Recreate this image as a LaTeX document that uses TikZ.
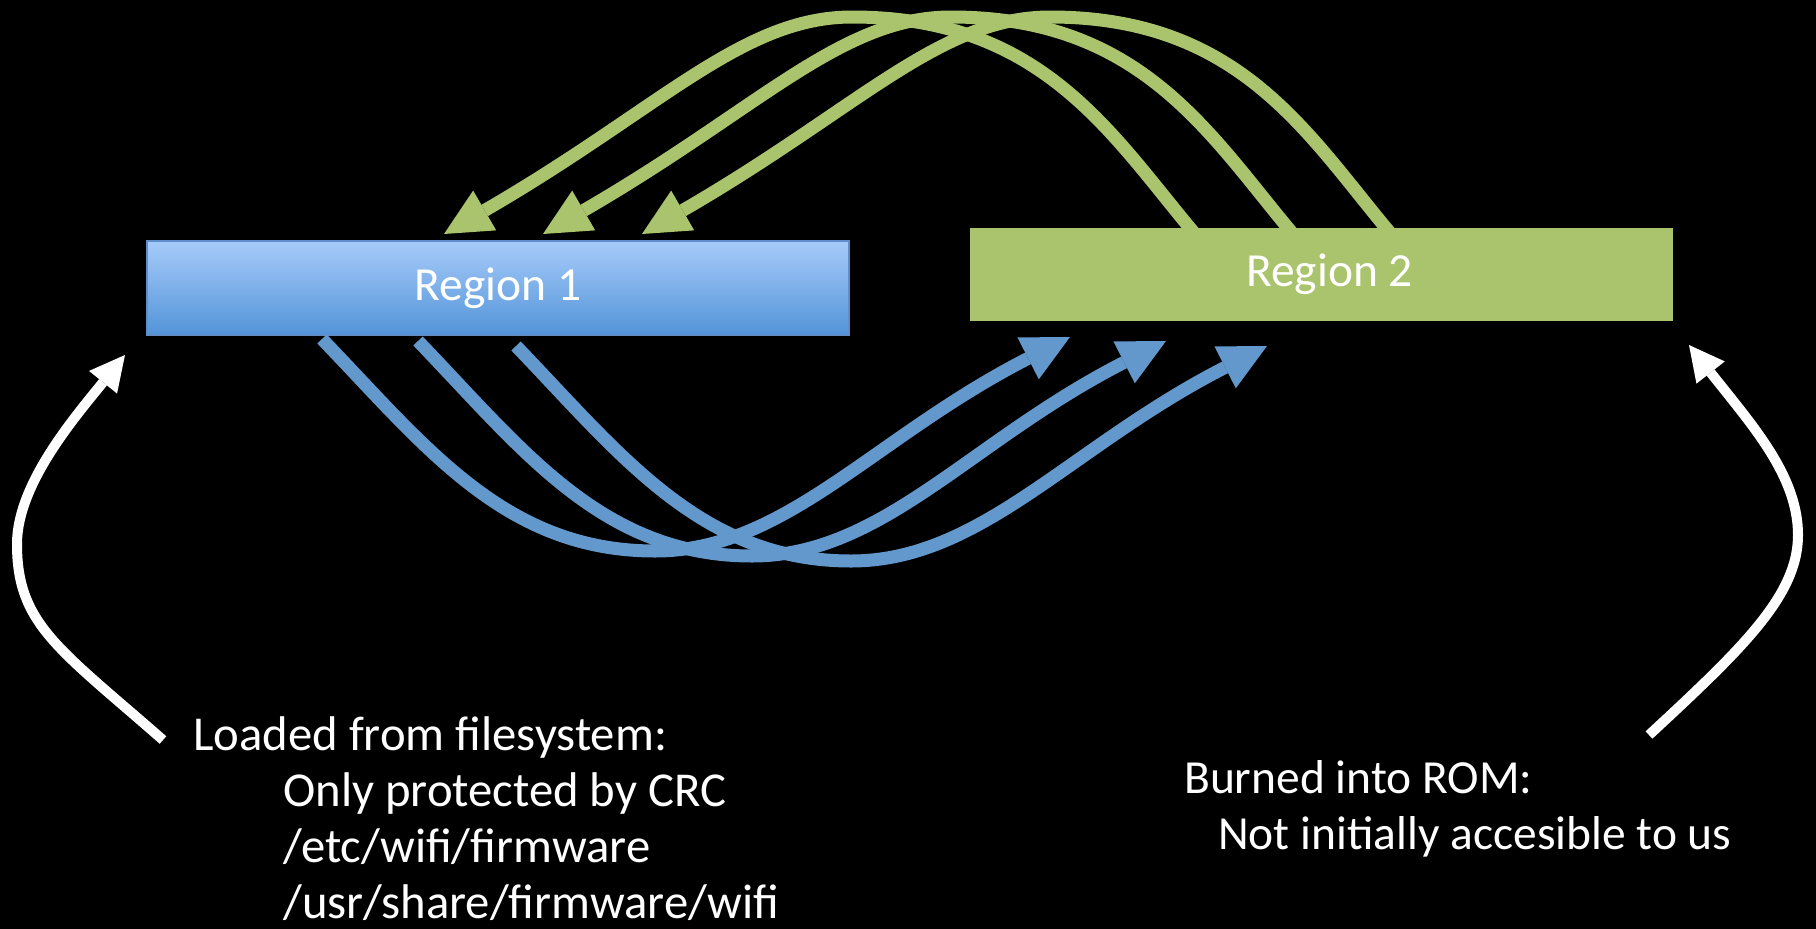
\documentclass[tikz,border=0pt]{standalone}
\usepackage{fontspec}
\setmainfont{Carlito}
\usetikzlibrary{arrows.meta}

\definecolor{regblueTop}{RGB}{167,203,250}
\definecolor{regblueBot}{RGB}{82,148,216}
\definecolor{regblueEdge}{RGB}{96,140,200}
\definecolor{reggreen}{RGB}{169,196,108}
\definecolor{flowblue}{RGB}{99,152,205}
\definecolor{flowgreen}{RGB}{169,196,108}

\begin{document}
\begin{tikzpicture}[x=1pt,y=-1pt,
  txt/.style={font=\fontsize{47.5}{55}\selectfont, text=white, inner sep=0pt},
  bigtxt/.style={txt, font=\fontsize{48.7}{55}\selectfont},
  regionbox/.style={txt, minimum width=702pt, minimum height=94pt, line width=1.5pt},
  greenflow/.style={draw=flowgreen, line width=13pt,
    -{Triangle[length=47pt,width=46pt,line width=0pt]}},
  blueflow/.style={draw=flowblue, line width=13pt,
    -{Triangle[length=47pt,width=47pt,line width=0pt]}},
  whiteflow/.style={draw=white, line width=10pt,
    -{Triangle[length=35pt,width=36pt,line width=0pt]}}]

% canvas
\fill[black] (0,0) rectangle (1816,929);
\useasboundingbox (0,0) rectangle (1816,929);

% the two memory regions
\node[regionbox, top color=regblueTop, bottom color=regblueBot, draw=regblueEdge]
  (r1) at (498,288) {Region 1};
\node[regionbox, minimum width=703pt, minimum height=93pt, fill=reggreen]
  (r2) at (1321.5,274.5) {\hspace*{16pt}Region 2};

% captions
\node[bigtxt, anchor=base west] (ld) at (193,750) {Loaded from filesystem:};
\node[bigtxt, anchor=base west] (crc) at (283,806) {Only protected by CRC};
\node[bigtxt, anchor=base west] (p1) at (283,862) {/etc/wifi/firmware};
\node[bigtxt, anchor=base west] (p2) at (283,918) {/usr/share/firmware/wifi};
\node[txt, anchor=base west] (rom) at (1184,793) {Burned into ROM:};
\node[txt, anchor=base west] (acc) at (1218,849) {Not initially accesible to us};

% end points of the green arcs (Region 2 -> Region 1)
\coordinate (gs1) at (1195,234); \coordinate (ga1) at (852,17);  \coordinate (gt1) at (444,234);
\coordinate (gs2) at (1293,234); \coordinate (ga2) at (951,17);  \coordinate (gt2) at (543,234);
\coordinate (gs3) at (1391,234); \coordinate (ga3) at (1050,17); \coordinate (gt3) at (642,234);

% end points of the blue arcs (Region 1 -> Region 2)
\coordinate (bs1) at (322,339); \coordinate (bb1) at (655,551); \coordinate (bt1) at (1070,337);
\coordinate (bs2) at (418,341); \coordinate (bb2) at (752,556); \coordinate (bt2) at (1166,341);
\coordinate (bs3) at (516,346); \coordinate (bb3) at (851,561); \coordinate (bt3) at (1267,346);

% white pointers
\coordinate (wl0) at (163,740); \coordinate (wl1) at (17,544);   \coordinate (wl2) at (125,355);
\coordinate (wr0) at (1649,735); \coordinate (wr1) at (1798,535); \coordinate (wr2) at (1689,345);

% blue flows
\foreach \i in {1,2,3}{
  \draw[blueflow] (bs\i) .. controls +(104,108) and +(-150,0) .. (bb\i)
                         .. controls +(130,0) and +(-196,100) .. (bt\i);
}

% green flows
\foreach \i in {3,2,1}{
  \draw[greenflow] (gs\i) .. controls +(-84,-100) and +(190,0) .. (ga\i)
                          .. controls +(-110,0) and +(216,-125) .. (gt\i);
}

% white pointers to the regions
\draw[whiteflow] (wl0) .. controls +(-105,-92) and +(0,80) .. (wl1)
                       .. controls +(0,-60) and +(-50,62) .. (wl2);
\draw[whiteflow] (wr0) .. controls +(95,-88) and +(0,60) .. (wr1)
                       .. controls +(0,-60) and +(62,79) .. (wr2);
\end{tikzpicture}
\end{document}
